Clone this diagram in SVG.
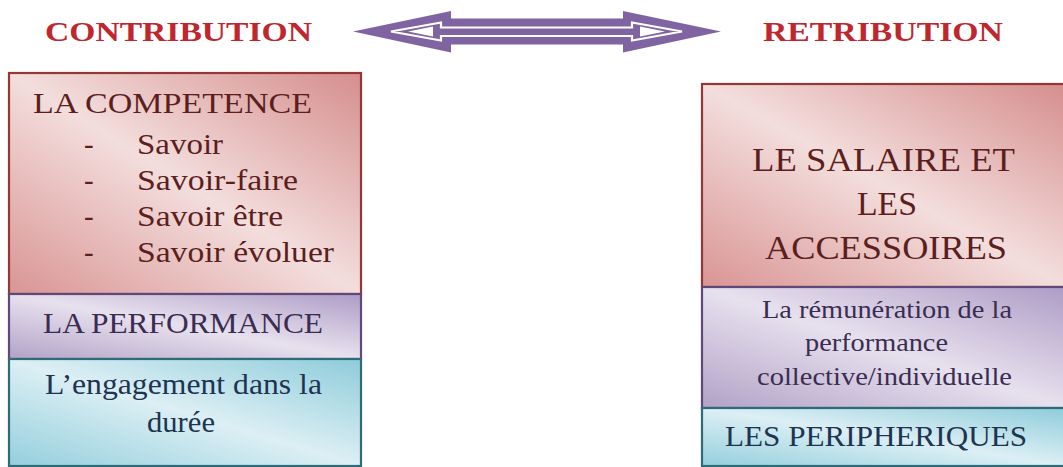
<svg xmlns="http://www.w3.org/2000/svg" width="1063" height="467" viewBox="0 0 1063 467">
  <style>
    text { font-family: "Liberation Serif", "Times New Roman", serif; }
    .title { font-size: 28px; font-weight: bold; fill: #C0262D; }
    .red-t { font-size: 29px; fill: #5C1F1E; }
    .red-big { font-size: 33px; fill: #5C1F1E; }
    .pur-t { font-size: 29px; fill: #3B2D52; }
    .pur-s { font-size: 25px; fill: #3B2D52; }
    .teal-t { font-size: 29px; fill: #1E3453; }
    .box-red { fill: url(#gRed); stroke: #953735; stroke-width: 2.2; }
    .box-pur { fill: url(#gPur); stroke: #5F497A; stroke-width: 2.2; }
    .box-teal { fill: url(#gTeal); stroke: #2F6B76; stroke-width: 2.2; }
  </style>
  <defs>
    <linearGradient id="gRed" x1="1" y1="0" x2="0" y2="1">
      <stop offset="0" stop-color="#D58E8D"/>
      <stop offset="0.5" stop-color="#F3DEDD"/>
      <stop offset="1" stop-color="#D99594"/>
    </linearGradient>
    <linearGradient id="gPur" x1="1" y1="0" x2="0" y2="1">
      <stop offset="0" stop-color="#AE9CC6"/>
      <stop offset="0.5" stop-color="#E7E1EE"/>
      <stop offset="1" stop-color="#B2A2C7"/>
    </linearGradient>
    <linearGradient id="gTeal" x1="1" y1="0" x2="0" y2="1">
      <stop offset="0" stop-color="#8ECCDA"/>
      <stop offset="0.5" stop-color="#DCEFF4"/>
      <stop offset="1" stop-color="#94CFDD"/>
    </linearGradient>
  </defs>

  <!-- headings -->
  <text class="title" x="45" y="41" textLength="267" lengthAdjust="spacingAndGlyphs">CONTRIBUTION</text>
  <text class="title" x="763" y="41" textLength="240" lengthAdjust="spacingAndGlyphs">RETRIBUTION</text>

  <!-- double-headed exchange arrow -->
  <g id="exchange-arrow">
    <polygon fill="#8064A2" points="353,31.5 451,11 451,18.5 623,18.5 623,11 721,31.5 623,52.5 623,44.5 451,44.5 451,52.5"/>
    <polygon fill="#8064A2" stroke="#FFFFFF" stroke-width="2.2" stroke-linejoin="miter"
             points="391,31.5 441,22.5 441,27.5 632,27.5 632,22.5 682,31.5 632,40.5 632,36 441,36 441,40.5"/>
    <polygon fill="#FFFFFF" points="408,31.5 433,26.5 433,36.5"/>
    <polygon fill="#FFFFFF" points="665,31.5 640,26.5 640,36.5"/>
  </g>

  <!-- left column: contribution -->
  <g id="competence">
    <rect class="box-red" x="9" y="73" width="352" height="221"/>
    <text class="red-t" x="33" y="113" textLength="279" lengthAdjust="spacingAndGlyphs">LA COMPETENCE</text>
    <text class="red-t" x="84" y="154">-</text>
    <text class="red-t" x="84" y="190">-</text>
    <text class="red-t" x="84" y="226">-</text>
    <text class="red-t" x="84" y="262">-</text>
    <text class="red-t" x="137" y="154" textLength="86" lengthAdjust="spacingAndGlyphs">Savoir</text>
    <text class="red-t" x="137" y="190" textLength="161" lengthAdjust="spacingAndGlyphs">Savoir-faire</text>
    <text class="red-t" x="137" y="226" textLength="146" lengthAdjust="spacingAndGlyphs">Savoir être</text>
    <text class="red-t" x="137" y="262" textLength="197" lengthAdjust="spacingAndGlyphs">Savoir évoluer</text>
  </g>
  <g id="performance">
    <rect class="box-pur" x="9" y="294" width="352" height="65"/>
    <text class="pur-t" x="43" y="333" textLength="280" lengthAdjust="spacingAndGlyphs">LA PERFORMANCE</text>
  </g>
  <g id="engagement">
    <rect class="box-teal" x="9" y="359" width="352" height="107"/>
    <text class="teal-t" x="45" y="394" textLength="277" lengthAdjust="spacingAndGlyphs">L’engagement dans la</text>
    <text class="teal-t" x="147" y="432" textLength="68" lengthAdjust="spacingAndGlyphs">durée</text>
  </g>

  <!-- right column: retribution -->
  <g id="salaire">
    <rect class="box-red" x="702" y="84" width="364" height="203"/>
    <text class="red-big" x="752" y="171" textLength="263" lengthAdjust="spacingAndGlyphs">LE SALAIRE ET</text>
    <text class="red-big" x="857" y="215" textLength="60" lengthAdjust="spacingAndGlyphs">LES</text>
    <text class="red-big" x="765" y="259" textLength="242" lengthAdjust="spacingAndGlyphs">ACCESSOIRES</text>
  </g>
  <g id="remuneration">
    <rect class="box-pur" x="702" y="287" width="364" height="121"/>
    <text class="pur-s" x="762" y="318" textLength="250" lengthAdjust="spacingAndGlyphs">La rémunération de la</text>
    <text class="pur-s" x="805" y="351" textLength="143" lengthAdjust="spacingAndGlyphs">performance</text>
    <text class="pur-s" x="757" y="385" textLength="255" lengthAdjust="spacingAndGlyphs">collective/individuelle</text>
  </g>
  <g id="peripheriques">
    <rect class="box-teal" x="702" y="408" width="364" height="58"/>
    <text class="teal-t" x="725" y="446" textLength="302" lengthAdjust="spacingAndGlyphs">LES PERIPHERIQUES</text>
  </g>
</svg>
